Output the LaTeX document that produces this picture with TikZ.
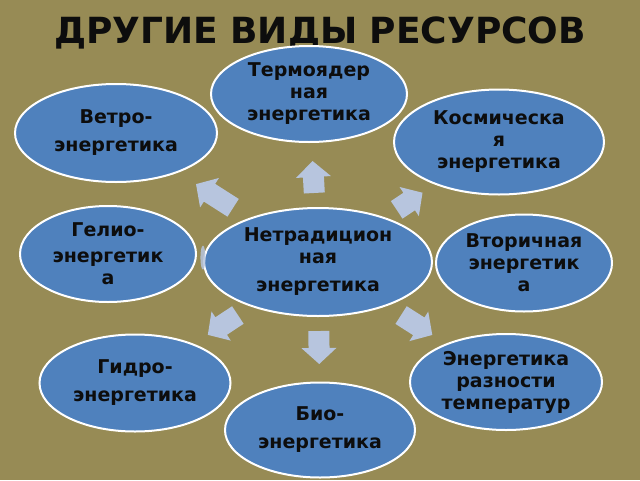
\documentclass[tikz,border=0pt]{standalone}
\usepackage{fontspec}
\setmainfont{DejaVu Sans}
\usetikzlibrary{shapes.geometric,calc}
\definecolor{bgcol}{HTML}{978B55}
\definecolor{ellcol}{HTML}{4F81BD}
\definecolor{arrcol}{HTML}{B7C5DE}
\definecolor{txtcol}{HTML}{0D0D0D}
\tikzset{
  ell/.style={ellipse, draw=white, line width=2pt, fill=ellcol, inner sep=0pt,
    align=center, text=txtcol, font=\bfseries\fontsize{19}{22}\selectfont},
  pics/bluearrow/.style={code={
    \fill[arrcol] (#1*0.5,0) -- (#1*0.5-16,17.5) -- (#1*0.5-16,10.5) -- (-#1*0.5,10.5)
      -- (-#1*0.5,-10.5) -- (#1*0.5-16,-10.5) -- (#1*0.5-16,-17.5) -- cycle;}}
}
\newcommand\bluearrow[4]{%
  \path let \p1=($(#2)-(#1)$), \n1={atan2(\y1,\x1)} in
    pic[rotate=\n1] at ($(#1)!#3!(#2)$) {bluearrow=#4};}
\begin{document}
\begin{tikzpicture}[x=1pt,y=-1pt]
\useasboundingbox (0,0) rectangle (640,480);
\fill[bgcol] (0,0) rectangle (640,480);
\node[anchor=base, text=txtcol, font=\bfseries\fontsize{36}{40}\selectfont] (title) at (320,43) {ДРУГИЕ ВИДЫ РЕСУРСОВ};

\node[ell, minimum width=196, minimum height=96] (thermo) at (309,94) {Термоядер\\ная\\энергетика};
\node[ell, minimum width=202, minimum height=98] (wind) at (116,133) {Ветро-\\[6pt]энергетика};
\node[ell, minimum width=210, minimum height=105] (space) at (499,142) {Космическа\\я\\энергетика};
\node[ell, minimum width=176, minimum height=96] (solar) at (108,254) {Гелио-\\[4pt]энергетик\\а};
\node[ell, minimum width=228, minimum height=108] (center) at (318,262) {Нетрадицион\\ная\\[6pt]энергетика};
\node[ell, minimum width=176, minimum height=97] (second) at (524,263) {Вторичная\\энергетик\\а};
\node[ell, minimum width=191, minimum height=97] (hydro) at (135,383) {Гидро-\\[6pt]энергетика};
\node[ell, minimum width=192, minimum height=96] (tempdiff) at (506,382) {Энергетика\\разности\\температур};
\node[ell, minimum width=190, minimum height=95] (bio) at (320,430) {Био-\\[6pt]энергетика};

\bluearrow{center}{thermo}{0.506}{32}
\bluearrow{center}{wind}{0.512}{44}
\bluearrow{center}{space}{0.506}{31}
\bluearrow{center}{tempdiff}{0.525}{37}
\bluearrow{center}{hydro}{0.52}{36}
\bluearrow{center}{bio}{0.509}{33}
\coordinate (sliver) at ($(center)!0.548!(solar)$);
\fill[arrcol, opacity=0.85] (sliver) ellipse (2.5 and 12);
\end{tikzpicture}
\end{document}
